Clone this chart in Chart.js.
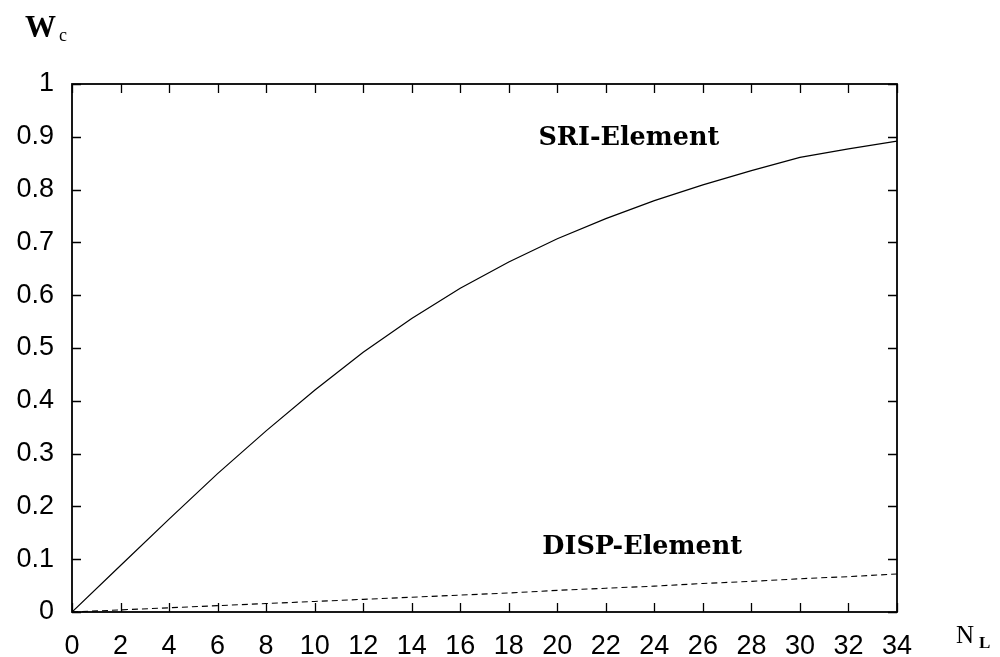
<!DOCTYPE html>
<html>
<head>
<meta charset="utf-8">
<script src="https://cdn.jsdelivr.net/npm/chart.js@4.4.1/dist/chart.umd.min.js"></script>
<style>
  html, body { margin: 0; padding: 0; background: #fff; }
  #wrap { width: 1000px; height: 657px; position: relative; }
</style>
</head>
<body>
<div id="wrap"><canvas id="wcChart"></canvas></div>
<script>
// Data
const nL = [0, 2, 4, 6, 8, 10, 12, 14, 16, 18, 20, 22, 24, 26, 28, 30, 32, 34];
const sriValues = [0, 0.088, 0.176, 0.262, 0.343, 0.420, 0.492, 0.556, 0.613, 0.663, 0.707, 0.745, 0.779, 0.809, 0.836, 0.861, 0.877, 0.892];
const dispValues = [0, 0.004, 0.008, 0.012, 0.016, 0.020, 0.024, 0.028, 0.032, 0.036, 0.041, 0.045, 0.049, 0.054, 0.058, 0.063, 0.067, 0.072];
const xTicks = [0, 2, 4, 6, 8, 10, 12, 14, 16, 18, 20, 22, 24, 26, 28, 30, 32, 34];
const yTicks = [0, 0.1, 0.2, 0.3, 0.4, 0.5, 0.6, 0.7, 0.8, 0.9, 1];

// curve labels, placed in data coordinates
const curveLabels = [
    { text: 'SRI-Element', x: 22.95, y: 0.897 },
    { text: 'DISP-Element', x: 23.5, y: 0.122 }
];

const toPoints = vals => vals.map((v, i) => ({ x: nL[i], y: v }));

// box, inward ticks on all four sides, axis titles and curve labels
const framePlugin = {
    id: 'frame',
    afterDraw(chart) {
        const ctx = chart.ctx;
        const a = chart.chartArea;
        const xs = chart.scales.x;
        const ys = chart.scales.y;
        const tl = 9;

        ctx.save();
        ctx.strokeStyle = '#000';
        ctx.lineWidth = 1.3;
        ctx.beginPath();
        xTicks.forEach(t => {
            const px = Math.round(xs.getPixelForValue(t)) + 0.5;
            ctx.moveTo(px, a.bottom); ctx.lineTo(px, a.bottom - tl);
            ctx.moveTo(px, a.top); ctx.lineTo(px, a.top + tl);
        });
        yTicks.forEach(t => {
            const py = Math.round(ys.getPixelForValue(t)) + 0.5;
            ctx.moveTo(a.left, py); ctx.lineTo(a.left + tl, py);
            ctx.moveTo(a.right, py); ctx.lineTo(a.right - tl, py);
        });
        ctx.stroke();

        ctx.lineWidth = 1.8;
        ctx.strokeRect(a.left, a.top, a.right - a.left, a.bottom - a.top);

        // curve labels
        ctx.fillStyle = '#000';
        ctx.font = 'bold 25.5px "DejaVu Serif"';
        ctx.textAlign = 'center';
        ctx.textBaseline = 'middle';
        curveLabels.forEach(l => {
            ctx.fillText(l.text, xs.getPixelForValue(l.x), ys.getPixelForValue(l.y));
        });

        // axis titles
        ctx.textAlign = 'left';
        ctx.textBaseline = 'alphabetic';
        ctx.font = 'bold 31px "Liberation Serif"';
        ctx.fillText('W', 25, 37);
        ctx.font = '18px "Liberation Serif"';
        ctx.fillText('c', 59, 41);

        ctx.font = '25px "Liberation Serif"';
        ctx.fillText('N', 956, 643);
        ctx.font = 'bold 17px "Liberation Serif"';
        ctx.fillText('L', 979, 648);
        ctx.restore();
    }
};

new Chart(document.getElementById('wcChart'), {
    type: 'line',
    data: {
        datasets: [
            {
                label: 'SRI-Element',
                data: toPoints(sriValues),
                borderColor: '#000',
                borderWidth: 1.2,
                pointRadius: 0,
                tension: 0,
                fill: false
            },
            {
                label: 'DISP-Element',
                data: toPoints(dispValues),
                borderColor: '#000',
                borderWidth: 1.1,
                borderDash: [6, 4],
                pointRadius: 0,
                tension: 0,
                fill: false
            }
        ]
    },
    options: {
        responsive: true,
        maintainAspectRatio: false,
        animation: false,
        events: [],
        layout: { padding: { top: 84, right: 103, left: 0, bottom: 0 } },
        plugins: {
            legend: { display: false },
            tooltip: { enabled: false }
        },
        scales: {
            x: {
                type: 'linear',
                min: 0,
                max: 34,
                afterFit: s => { s.height = 45; },
                afterBuildTicks: s => { s.ticks = xTicks.map(v => ({ value: v })); },
                grid: { display: false, drawTicks: false },
                border: { display: false },
                ticks: {
                    color: '#000',
                    padding: 18,
                    maxRotation: 0,
                    autoSkip: false,
                    font: { family: '"Liberation Sans"', size: 27 },
                    callback: v => String(v)
                }
            },
            y: {
                type: 'linear',
                min: 0,
                max: 1,
                afterFit: s => { s.width = 72; },
                afterBuildTicks: s => { s.ticks = yTicks.map(v => ({ value: v })); },
                grid: { display: false, drawTicks: false },
                border: { display: false },
                ticks: {
                    color: '#000',
                    padding: 18,
                    autoSkip: false,
                    font: { family: '"Liberation Sans"', size: 27 },
                    callback: v => String(Math.round(v * 10) / 10)
                }
            }
        }
    },
    plugins: [framePlugin]
});
</script>
</body>
</html>
